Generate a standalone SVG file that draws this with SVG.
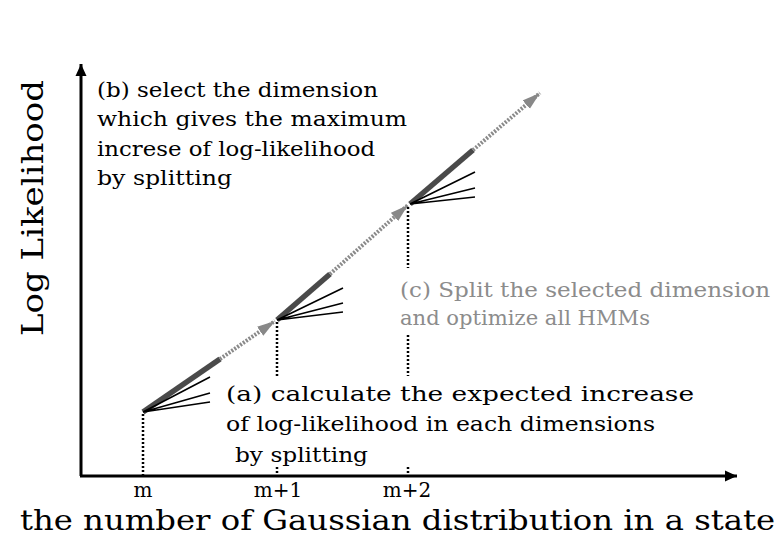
<svg xmlns="http://www.w3.org/2000/svg" width="781" height="536" viewBox="0 0 781 536">
<style>
text{font-family:"DejaVu Serif","Liberation Serif",serif;fill:#000}
.t{font-size:21px}
.g{fill:#8c8c8c}
.lbl{font-size:20px}
.big{font-size:29px}
.bt{font-size:27px}
.axis{stroke:#000;stroke-width:3;fill:none}
.dark{stroke:#4a4a4a;stroke-width:5.5;fill:none}
.light{stroke:#8a8a8a;stroke-width:4;stroke-dasharray:2 1.5;fill:none}
.fan{stroke:#000;stroke-width:1.6;fill:none}
.dot{stroke:#000;stroke-width:2.5;stroke-dasharray:2 2;fill:none}
</style>
<defs>
<marker id="ah" markerUnits="userSpaceOnUse" markerWidth="20" markerHeight="12" refX="18" refY="6" orient="auto">
<path d="M0,0.5 L18,6 L0,11.5 z" fill="#888"/>
</marker>
<marker id="axh" markerUnits="userSpaceOnUse" markerWidth="14" markerHeight="12" refX="12" refY="6" orient="auto">
<path d="M0,0.5 L12,6 L0,11.5 z" fill="#000"/>
</marker>
</defs>
<g id="axes">
<line class="axis" x1="81" y1="476" x2="81" y2="64" marker-end="url(#axh)"/>
<line class="axis" x1="80" y1="476" x2="737" y2="476" marker-end="url(#axh)"/>
</g>
<g id="connectors">
<line class="dark" x1="143" y1="412" x2="220" y2="359"/>
<line class="light" x1="220" y1="359" x2="275" y2="321" marker-end="url(#ah)"/>
<line class="dark" x1="277" y1="320" x2="330" y2="274"/>
<line class="light" x1="330" y1="274" x2="408" y2="205" marker-end="url(#ah)"/>
<line class="dark" x1="410" y1="204" x2="473" y2="150"/>
<line class="light" x1="473" y1="150" x2="540" y2="93" marker-end="url(#ah)"/>
<path class="fan" d="M143,412 L210,377 M143,412 L210,393 M143,412 L210,402"/>
<path class="fan" d="M277,320 L343,288 M277,320 L343,303 M277,320 L343,312"/>
<path class="fan" d="M410,204 L475,172 M410,204 L475,188 M410,204 L475,197"/>
<path class="dot" d="M143,414 V476 M277,322 V376 M277,467 V476 M408,207 V268 M408,335 V376 M408,467 V476"/>
</g>
<g id="node-b">
<text class="t" x="97" y="97" textLength="281" lengthAdjust="spacingAndGlyphs">(b) select the dimension</text>
<text class="t" x="97" y="126" textLength="310" lengthAdjust="spacingAndGlyphs">which gives the maximum</text>
<text class="t" x="97" y="156" textLength="278" lengthAdjust="spacingAndGlyphs">increse of log-likelihood</text>
<text class="t" x="97" y="185" textLength="135" lengthAdjust="spacingAndGlyphs">by splitting</text>
</g>
<g id="node-c">
<text class="t g" x="400" y="297" textLength="370" lengthAdjust="spacingAndGlyphs">(c) Split the selected dimension</text>
<text class="t g" x="400" y="325" textLength="250" lengthAdjust="spacingAndGlyphs">and optimize all HMMs</text>
</g>
<g id="node-a">
<text class="t" x="226" y="401" textLength="468" lengthAdjust="spacingAndGlyphs">(a) calculate the expected increase</text>
<text class="t" x="226" y="431" textLength="429" lengthAdjust="spacingAndGlyphs">of log-likelihood in each dimensions</text>
<text class="t" x="235" y="462" textLength="133" lengthAdjust="spacingAndGlyphs">by splitting</text>
</g>
<g id="labels">
<text class="lbl" x="143" y="497" text-anchor="middle">m</text>
<text class="lbl" x="278" y="497" text-anchor="middle">m+1</text>
<text class="lbl" x="407" y="497" text-anchor="middle">m+2</text>
<text class="bt" x="20" y="530" textLength="755" lengthAdjust="spacingAndGlyphs">the number of Gaussian distribution in a state</text>
<text class="big" transform="translate(43,208) rotate(-90)" text-anchor="middle" textLength="256" lengthAdjust="spacingAndGlyphs">Log Likelihood</text>
</g>
</svg>
